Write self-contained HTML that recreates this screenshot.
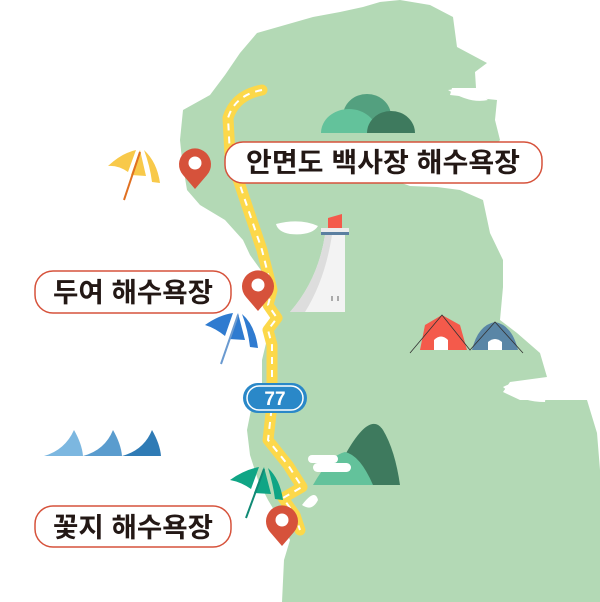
<!DOCTYPE html>
<html><head><meta charset="utf-8"><style>
html,body{margin:0;padding:0;background:#fff}
svg{display:block}
text{font-family:"Liberation Sans","Noto Sans CJK KR",sans-serif;font-weight:bold;fill:#231815}
</style></head><body>
<svg width="600" height="602" viewBox="0 0 600 602">
<path fill="#b3d9b5" d="M313,17 L340,12 L363,7 L380,2 L400,0 L430,5 L453,17 L457,47 L487,63 L475,72 L476,88 L452,88 L450,95 L497,100 L495,120 L500,140 L487,157 L440,165 L400,172 L393,180 L410,186 L437,187 L460,190 L483,200 L490,233 L503,260 L503,287 L500,320 L517,333 L540,353 L547,377 L510,382 L503,392 L520,400 L547,400 L587,400 L597,433 L600,470 L600,602 L282,602 L284,560 L290,540 L280,520 L268,500 L258,480 L250,455 L247,430 L252,405 L262,385 L262,360 L268,335 L272,310 L268,280 L255,262 L250,255 L243,240 L225,220 L200,205 L187,190 L182,160 L180,140 L183,110 L210,95 L225,75 L240,53 L257,33 Z"/>
<path fill="#fff" d="M276,224 Q300,218 318,226 Q312,236 290,234 Q278,232 276,224Z"/>
<path fill="#fff" d="M395,178 Q420,170 440,182 Q415,190 395,178Z"/>
<path fill="#fff" d="M448,90 Q470,86 488,100 Q470,104 448,90Z"/>
<path fill="#fff" d="M503,387 Q520,378 547,385 L545,402 Q520,402 503,387Z"/>
<path fill="#fff" d="M302,505 Q315,488 318,500 Q312,512 302,505Z"/>
<path fill="#53a07f" d="M343,116 A24,22 0 0 1 391,116 L391,126 L343,126Z"/>
<path fill="#63c29b" d="M321,133 A28,24 0 0 1 377,133Z"/>
<path fill="#3e7a5e" d="M367,133 A24,22 0 0 1 415,133Z"/>
<path fill="#f45a4b" d="M328,218 L342,214 L342,228 L328,228Z"/>
<rect x="321" y="228" width="28" height="5" fill="#ececec"/>
<rect x="321" y="232" width="28" height="3" fill="#5b7fa0"/>
<path fill="#f3f3f3" d="M325,235 L345,235 L345,312 L290,312 Q318,280 325,235Z"/>
<path fill="#ddd" d="M325,235 L332,235 Q325,280 305,312 L290,312 Q318,280 325,235Z"/>
<rect x="331" y="296" width="2" height="5" fill="#aaa"/><rect x="337" y="296" width="2" height="5" fill="#aaa"/>
<path fill="#f45a4b" d="M420,350 L425,325 L442,315 L460,325 L467,350Z"/>
<path fill="#fff" d="M434,350 L434,340 Q441,333 448,340 L448,350Z"/>
<path fill="#5a86a6" d="M472,350 Q478,325 495,322 Q512,325 518,350Z"/>
<path fill="#fff" d="M488,350 L488,342 Q495,336 502,342 L502,350Z"/>
<path d="M410,353 L442,315 L470,350 L495,322 L523,353" fill="none" stroke="#333" stroke-width="0.8"/>
<path fill="#3e7a5e" d="M345,455 Q370,410 383,430 Q395,450 400,485 L345,485Z"/>
<path fill="#63c29b" d="M313,485 Q330,455 345,452 Q360,455 373,485Z"/>
<rect x="308" y="455" width="30" height="8" rx="4" fill="#fff"/>
<rect x="313" y="463" width="38" height="9" rx="4.5" fill="#fff"/>
<path fill="#7cb7e0" d="M44,456 Q65,450 74,430 Q82,444 83,456Z"/>
<path fill="#5a9cce" d="M83,456 Q105,450 113,430 Q121,444 122,456Z"/>
<path fill="#2f7bb5" d="M122,456 Q144,450 152,430 Q160,444 161,456Z"/>
<path id="rd" d="M262,90 Q235,95 228,118 L230,155 L245,200 L262,250 L272,290 L268,305 L277,318 L268,330 L272,345 L272,405 L268,440 L288,465 L302,487 L283,498 L295,515 L300,530" fill="none" stroke="#fcd84a" stroke-width="11" stroke-linejoin="round" stroke-linecap="round"/>
<path d="M262,90 Q235,95 228,118 L230,155 L245,200 L262,250 L272,290 L268,305 L277,318 L268,330 L272,345 L272,405 L268,440 L288,465 L302,487 L283,498 L295,515 L300,530" fill="none" stroke="#fff" stroke-width="2" stroke-dasharray="7,6"/>
<rect x="243" y="383" width="64" height="30" rx="15" fill="#2a88c8"/>
<rect x="247" y="386" width="56" height="24" rx="12" fill="none" stroke="#fff" stroke-width="1.5"/>
<text x="275" y="405" text-anchor="middle" font-size="19" style="fill:#fff">77</text>
<g>
<path fill="#f8c94a" d="M108,166 Q122,153 136,150 L128,172 Q118,165 108,166Z"/>
<path fill="#f8c94a" d="M144,150 Q157,162 160,183 L152,182 Q150,166 144,150Z"/>
<path fill="#f8c94a" d="M140,150 L131,175 L146,176Z"/>
<line x1="140" y1="152" x2="124" y2="200" stroke="#e07020" stroke-width="2"/>
</g>
<g>
<path fill="#2f7bd0" d="M205,325 Q219,315 233,313 L225,336 Q215,328 205,325Z"/>
<path fill="#2f7bd0" d="M242,314 Q255,325 258,348 L250,347 Q248,330 242,314Z"/>
<path fill="#2f7bd0" d="M238,313 L229,339 L245,340Z"/>
<line x1="238" y1="315" x2="221" y2="364" stroke="#6a9ad0" stroke-width="2"/>
</g>
<g>
<path fill="#10a585" d="M230,480 Q244,470 259,467 L251,489 Q241,482 230,480Z"/>
<path fill="#10a585" d="M268,468 Q280,479 283,500 L275,499 Q273,484 268,468Z"/>
<path fill="#10a585" d="M264,467 L254,493 L271,494Z"/>
<line x1="264" y1="469" x2="246" y2="518" stroke="#108a75" stroke-width="2"/>
</g>
<g fill="#d6523b">
<path d="M195,189 L183,175 A16,16 0 1 1 207,175Z"/>
<path d="M258,311 L246,297 A16,16 0 1 1 270,297Z"/>
<path d="M282,546 L270,532 A16,16 0 1 1 294,532Z"/>
</g>
<g fill="#fff">
<circle cx="195" cy="163" r="6.5"/><circle cx="258" cy="285" r="6.5"/><circle cx="282" cy="520" r="6.5"/>
</g>
<rect x="225" y="142" width="317" height="41" rx="18" fill="#fff" stroke="#d6523b" stroke-width="1.5"/>
<text x="383" y="172" text-anchor="middle" font-size="27" textLength="274" lengthAdjust="spacingAndGlyphs">안면도 백사장 해수욕장</text>
<rect x="35" y="271" width="196" height="42" rx="18" fill="#fff" stroke="#d6523b" stroke-width="1.5"/>
<text x="133" y="302" text-anchor="middle" font-size="27" textLength="160" lengthAdjust="spacingAndGlyphs">두여 해수욕장</text>
<rect x="35" y="506" width="196" height="41" rx="18" fill="#fff" stroke="#d6523b" stroke-width="1.5"/>
<text x="133" y="537" text-anchor="middle" font-size="27" textLength="160" lengthAdjust="spacingAndGlyphs">꽃지 해수욕장</text>
</svg>
</body></html>
